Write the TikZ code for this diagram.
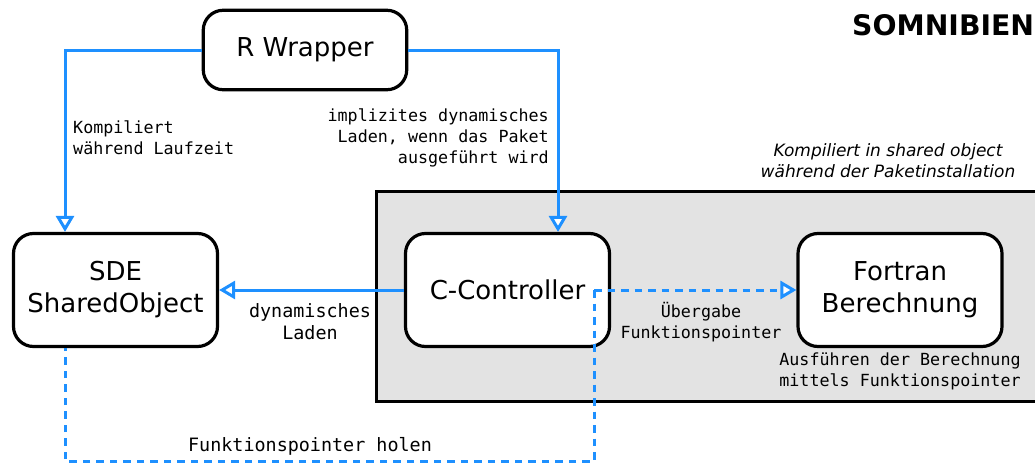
\documentclass[tikz,border=0pt]{standalone}
\usepackage{fontspec}
\setmainfont{DejaVu Sans}
\setmonofont{DejaVu Sans Mono}
\usetikzlibrary{arrows.meta,calc}
\definecolor{flow}{HTML}{1E90FF}
\definecolor{pane}{HTML}{E3E3E3}
\begin{document}
\begin{tikzpicture}[x=1pt,y=-1pt,
  unit/.style={draw=black, line width=3.2pt, rounded corners=20pt, fill=white,
    align=center, inner sep=0pt, font=\fontsize{26}{32}\selectfont},
  flowline/.style={draw=flow, line width=3pt},
  tip/.style={-{Triangle[length=16pt,width=18pt,fill=white]}},
  dashedflow/.style={flowline, dash pattern=on 7.5pt off 6pt},
  note/.style={font=\ttfamily\fontsize{16.7}{21}\selectfont, inner sep=0pt},
  bignote/.style={font=\ttfamily\fontsize{18.4}{22}\selectfont, inner sep=0pt},
  caption/.style={font=\itshape\fontsize{17}{21}\selectfont, inner sep=0pt, align=center}]
\useasboundingbox (0,0) rectangle (1035,463);

% shaded area for the compiled package part
\path[draw=black, line width=3pt, fill=pane] (376.5,191.5) rectangle (1050,401.5);

% title
\node[font=\bfseries\fontsize{28.3}{30}\selectfont, anchor=base west, inner sep=0pt]
  (title) at (852,35) {SOMNIBIEN};

% components
\node[unit, minimum width=203.5pt, minimum height=79.5pt] (rw) at (305,50) {R Wrapper};
\node[unit, minimum width=204pt, minimum height=113pt] (sde) at (115.5,290) {SDE\\SharedObject};
\node[unit, minimum width=204pt, minimum height=113pt] (cc) at (507.5,290) {C-Controller};
\node[unit, minimum width=204pt, minimum height=113pt] (fort) at (900,290) {Fortran\\Berechnung};

% labels
\node[note, anchor=west, align=left] (lcomp) at (73,138) {Kompiliert\\während Laufzeit};
\node[note, anchor=east, align=right] (limpl) at (549,138)
  {implizites dynamisches\\Laden, wenn das Paket\\ausgeführt wird};
\node[bignote, align=center] (ldyn) at (310,322) {dynamisches\\Laden};
\node[note, align=center] (lpass) at (701,322) {Übergabe\\Funktionspointer};
\node[note, align=center] (lexec) at (900,371) {Ausführen der Berechnung\\mittels Funktionspointer};
\node[caption] (lpane) at (888,161) {Kompiliert in shared object\\während der Paketinstallation};
\node[bignote] (lfetch) at (310,446) {Funktionspointer holen};

% solid connectors
\draw[flowline, tip] (rw.west) -| ([xshift=-50.5pt]sde.north);
\draw[flowline, tip] (rw.east) -| ([xshift=50.5pt]cc.north);
\draw[flowline, tip] (cc.west) -- (sde.east);

% dashed connectors
\coordinate (fork) at ([xshift=86.5pt]cc.center);
\coordinate (bend) at (594,461);
\draw[dashedflow, tip] (fork) -- (fort.west);
\draw[dashedflow] (fork) -- (bend) -| ([xshift=-50.5pt]sde.south);
\end{tikzpicture}
\end{document}
